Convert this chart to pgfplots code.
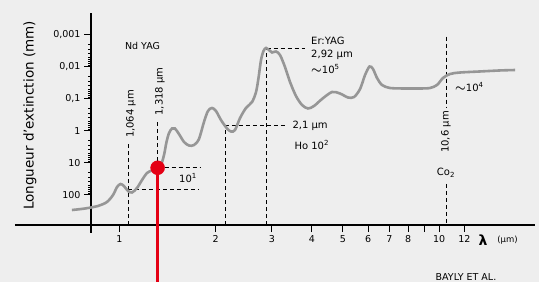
\documentclass[border=0pt]{standalone}
\usepackage{pgfplots}
\pgfplotsset{compat=1.18}
\usepackage{fontspec}
\setmainfont{DejaVu Sans}
\definecolor{bg}{RGB}{238,238,238}
\definecolor{curvegray}{RGB}{150,150,150}
\definecolor{lred}{RGB}{228,0,20}
\tikzset{dl/.style={black, line width=0.8pt, dash pattern=on 4pt off 3pt}}
\newcommand\fs[1]{\fontsize{#1}{#1}\selectfont}
\newcommand\tld{{\fontsize{12}{12}\selectfont\boldmath$\sim$}}
\begin{document}
\begin{tikzpicture}
\fill[bg] (-91pt,-57pt) rectangle (448pt,225pt);
\begin{axis}[
  at={(0,0)}, anchor=south west,
  scale only axis, width=444pt, height=212pt,
  xmode=log, ymode=log, y dir=reverse,
  xmin=0.8157, xmax=19.96, ymin=2.1e-4, ymax=885,
  axis x line=bottom, axis y line=left,
  axis line style={-, line width=1.4pt, black},
  clip=false,
  xtick={1,2,3,4,5,6,7,8,9,10,12},
  xticklabels={1,2,3,4,5,6,7,8,,10,12},
  ytick={0.001,0.01,0.1,1,10,100},
  yticklabels={{0,001},{0,01},{0,1},1,10,100},
  minor xtick={}, minor ytick={},
  tick align=outside, major tick length=7pt,
  tick style={line width=1pt, black},
  x tick label style={font=\fs{9.5}},
  y tick label style={font=\fs{9.5}},
]
% dashed reference lines
\draw[dl] (axis cs:1.064,885) -- (axis cs:1.064,2.42);
\draw[dl] (axis cs:1.064,67.8) -- (axis cs:1.775,67.8);
\draw[dl] (axis cs:1.318,14.4) -- (axis cs:1.318,0.463);
\draw[dl] (axis cs:1.318,14.4) -- (axis cs:1.787,14.4);
\draw[dl] (axis cs:2.14,885) -- (axis cs:2.14,0.698);
\draw[dl] (axis cs:2.14,0.698) -- (axis cs:3.339,0.698);
\draw[dl] (axis cs:2.89,885) -- (axis cs:2.89,0.0026);
\draw[dl] (axis cs:2.89,0.0026) -- (axis cs:3.81,0.0026);
\draw[dl] (axis cs:10.55,0.001155) -- (axis cs:10.55,0.195);
\draw[dl] (axis cs:10.55,46.3) -- (axis cs:10.55,885);
% absorption curve
\addplot[curvegray, line width=2.6pt, smooth, tension=0.5] coordinates {
(0.711,301) (0.781,270) (0.858,225) (0.915,169) (0.956,102) (0.984,57.5)
(1.009,46.3) (1.034,53.5) (1.065,76.6) (1.096,85.3) (1.136,61.8) (1.178,34.7)
(1.221,21.0) (1.266,17.5) (1.312,16.3) (1.350,11.8) (1.380,5.75) (1.405,2.25)
(1.431,1.18) (1.462,0.853) (1.493,0.853) (1.537,1.27) (1.594,2.25) (1.652,2.90)
(1.713,2.80) (1.775,1.82) (1.840,0.535) (1.894,0.242) (1.950,0.195) (2.006,0.242)
(2.080,0.463) (2.172,0.853) (2.236,1.06) (2.301,0.951) (2.386,0.401) (2.490,0.195)
(2.601,0.127) (2.677,0.0618) (2.725,0.0225) (2.775,0.00618) (2.825,0.00323)
(2.877,0.00260) (2.950,0.00312) (3.004,0.00360) (3.091,0.00335) (3.182,0.00431)
(3.298,0.0102) (3.420,0.0301) (3.570,0.0824) (3.728,0.157) (3.892,0.202)
(4.064,0.169) (4.306,0.102) (4.627,0.0618) (4.901,0.0688) (5.191,0.0917)
(5.423,0.0885) (5.662,0.0498) (5.869,0.0182) (6.062,0.00986) (6.216,0.0118)
(6.398,0.0225) (6.633,0.0373) (7.026,0.0463) (7.828,0.0480) (8.721,0.0480)
(9.371,0.0463) (9.856,0.0373) (10.29,0.0225) (10.82,0.0169) (11.63,0.0152)
(13.43,0.0141) (15.52,0.0131) (17.29,0.0127)
};
% Nd:YAG 1.318 um beam
\addplot[lred, line width=2.6pt] coordinates {(1.318,14.4) (1.318,53460)};
\addplot[only marks, mark=*, mark size=7pt, lred] coordinates {(1.318,14.4)};
\end{axis}
% axis extensions
\draw[line width=1.4pt] (-76pt,0) -- (0,0);
\draw[line width=1.4pt] (0,0) -- (0,-8pt);
% labels
\node[font=\fs{13.5}, rotate=90] at (-61pt,109.5pt) {Longueur d'extinction (mm)};
\node[font=\fs{9.5}] at (51.5pt,179pt) {Nd YAG};
\node[font=\fs{10}, rotate=90] at (40pt,111pt) {1,064 µm};
\node[font=\fs{10}, rotate=90] at (69pt,133.5pt) {1,318 µm};
\node[font=\fs{10}] at (97pt,47pt) {10\textsuperscript{1}};
\node[font=\fs{10}, anchor=west] at (198pt,99.3pt) {2,1 µm};
\node[font=\fs{10}, anchor=west] at (200pt,80pt) {Ho 10\textsuperscript{2}};
\node[font=\fs{10}, anchor=west] at (216.7pt,184pt) {Er:YAG};
\node[font=\fs{10}, anchor=west] at (216.7pt,170pt) {2,92 µm};
\node[font=\fs{10}, anchor=west] at (216.7pt,156pt) {\tld10\textsuperscript{5}};
\node[font=\fs{10}, rotate=90] at (355pt,93pt) {10,6 µm};
\node[font=\fs{10}] at (355pt,52.3pt) {Co\textsubscript{2}};
\node[font=\fs{10}, anchor=west] at (360.7pt,137.7pt) {\tld10\textsuperscript{4}};
\node[font=\fs{14}\bfseries] at (392pt,-15pt) {λ};
\node[font=\fs{8.5}] at (416.5pt,-15pt) {(µm)};
\node[font=\fs{9.5}] at (375pt,-52pt) {BAYLY ET AL.};
\pgfresetboundingbox
\path (-91pt,-57pt) rectangle (448pt,225pt);
\end{tikzpicture}
\end{document}
